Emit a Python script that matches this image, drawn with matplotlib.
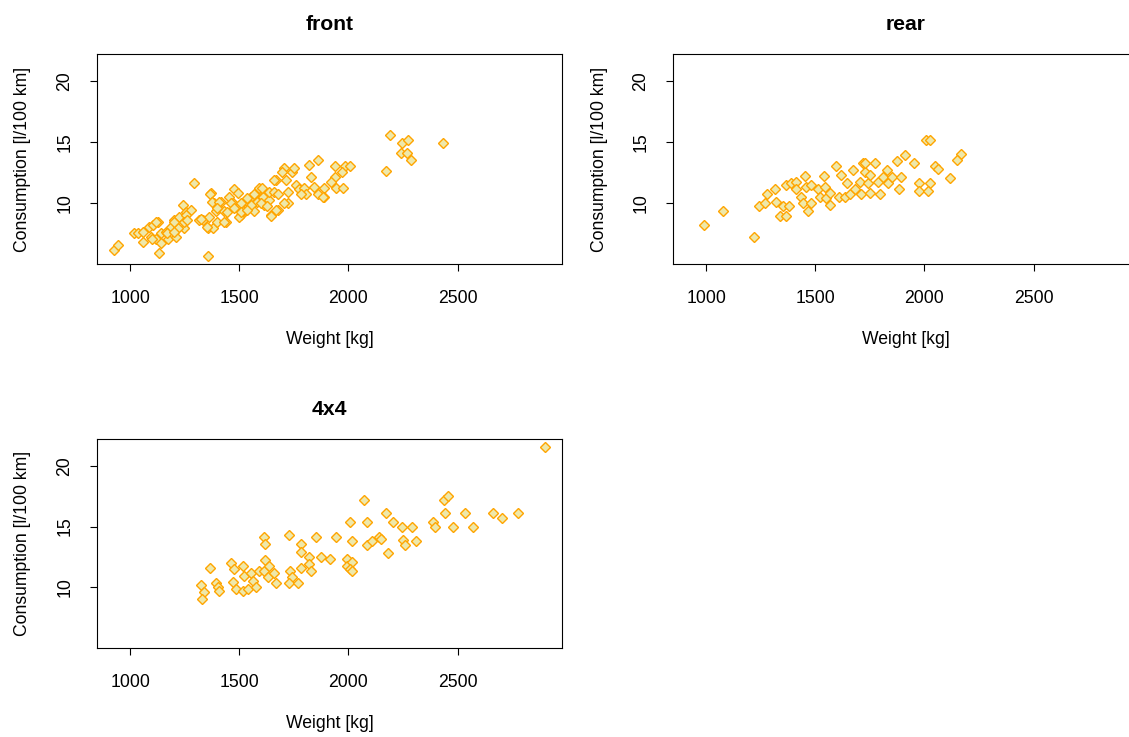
import matplotlib
matplotlib.use("Agg")
import matplotlib.pyplot as plt

plt.rcParams['font.family'] = ['Liberation Sans', 'DejaVu Sans']

# weights [kg] and consumption [l/100 km]
front_weight = [927, 945, 1018, 1037, 1060, 1060, 1087, 1105, 1128, 1096, 1119, 1133,
                1142, 1165, 1174, 1188, 1211, 1202, 1225, 1243, 1257, 1280, 1248, 1220,
                1294, 1317, 1335, 1358, 1381, 1362, 1372, 1385, 1417, 1394, 1440, 1431,
                1454, 1477, 1472, 1495, 1500, 1509, 1500, 1518, 1541, 1555, 1569, 1578,
                1592, 1610, 1615, 1638, 1638, 1647, 1661, 1670, 1679, 1679, 1706, 1716,
                1725, 1725, 1739, 1752, 1761, 1775, 1794, 1807, 1821, 1830, 1844, 1862,
                1862, 1890, 1890, 1936, 1936, 1945, 1982, 2005, 1968, 1977,
                2188, 2243, 2271, 2239, 2266, 2284, 2174, 2431,
                1367, 1376, 1408, 1257, 1326, 1202, 1248, 1261, 1399, 1353, 1119, 1170,
                1202, 1142, 1101, 1358, 1697, 1922, 1661, 1606, 1881, 1784, 1569, 1583,
                1537, 1463, 1509, 1555, 1601, 1628, 1706, 1670, 1647, 1509, 1445, 1399,
                1431, 1477, 1537]
front_cons = [6.1, 6.5, 7.5, 7.5, 7.6, 6.8, 8.0, 8.2, 8.4, 7.2, 7.0, 5.9,
              7.5, 7.6, 7.0, 8.0, 7.2, 8.6, 8.8, 9.8, 9.2, 9.4, 7.9, 7.9,
              11.6, 8.6, 8.6, 7.9, 7.9, 8.8, 10.8, 10.0, 10.1, 9.3, 8.4, 9.3,
              10.5, 11.1, 10.0, 10.8, 9.7, 9.0, 8.8, 9.3, 10.0, 10.5, 9.3, 10.8,
              11.2, 10.5, 9.8, 10.2, 10.9, 9.0, 10.9, 11.9, 9.4, 10.7, 12.9, 11.9,
              10.9, 10.0, 12.5, 12.9, 11.5, 11.1, 11.2, 10.7, 13.1, 12.1, 11.3, 13.5,
              10.7, 11.2, 10.5, 13.0, 12.1, 11.2, 13.0, 13.0, 12.5, 11.2,
              15.6, 14.9, 15.2, 14.1, 14.1, 13.5, 12.6, 14.9,
              10.7, 10.1, 10.1, 9.0, 8.7, 8.4, 8.4, 8.6, 8.4, 8.0, 8.4, 7.5,
              7.6, 6.7, 7.0, 5.6, 12.5, 11.7, 11.9, 11.2, 10.5, 10.7, 10.7, 10.1,
              10.4, 10.0, 10.0, 9.8, 10.0, 9.7, 10.0, 9.4, 8.9, 9.2, 9.2, 9.6,
              8.4, 9.6, 9.4]

rear_weight = [991, 1078, 1220, 1243, 1271, 1280, 1317, 1321, 1339, 1353, 1367, 1381,
               1367, 1390, 1413, 1413, 1436, 1445, 1454, 1459, 1468, 1482, 1482, 1514,
               1523, 1541, 1546, 1550, 1569, 1569, 1596, 1610, 1619, 1638, 1647, 1661,
               1674, 1683, 1706, 1711, 1720, 1729, 1739, 1752, 1752, 1775, 1789, 1798,
               1812, 1826, 1835, 1849, 1872, 1881, 1894, 1913, 2005, 2023, 1950, 2165,
               2151, 2050, 2060, 2115, 1977, 2023, 1977, 2018, 1729]
rear_cons = [8.2, 9.3, 7.2, 9.7, 10.0, 10.7, 11.1, 10.1, 8.9, 9.7, 8.9, 9.7,
             11.5, 11.6, 11.7, 11.1, 10.5, 10.0, 12.2, 11.3, 9.3, 10.0, 11.5, 11.1,
             10.5, 12.2, 11.3, 10.4, 10.8, 9.8, 13.0, 10.5, 12.3, 10.5, 11.6, 10.7,
             12.7, 11.1, 11.7, 10.7, 13.3, 12.5, 11.6, 12.3, 10.8, 13.3, 11.7, 10.7,
             12.1, 12.7, 11.6, 12.1, 13.4, 11.1, 12.1, 13.9, 15.2, 15.2, 13.3, 14.0,
             13.5, 13.0, 12.8, 12.0, 11.6, 11.6, 11.0, 11.0, 13.3]

awd_weight = [1367, 1326, 1339, 1330, 1394, 1404, 1408, 1463, 1477, 1472, 1486, 1518,
              1523, 1518, 1541, 1555, 1564, 1578, 1592, 1615, 1619, 1619, 1615, 1633,
              1638, 1661, 1670, 1729, 1734, 1739, 1729, 1771, 1784, 1784, 1784, 1821,
              1821, 1830, 1849, 1872, 1917, 1945, 1991, 1995, 2018, 2009, 2014, 2018,
              2009, 2073, 2087, 2083, 2106, 2138, 2147, 2174, 2183, 2206, 2243, 2248,
              2261, 2289, 2307, 2385, 2394, 2440, 2436, 2454, 2477, 2532, 2569, 2661,
              2702, 2775, 2899]
awd_cons = [11.6, 10.2, 9.6, 9.0, 10.3, 10.0, 9.7, 12.0, 11.5, 10.4, 9.8, 11.7,
            10.9, 9.7, 9.8, 11.2, 10.5, 10.0, 11.3, 14.1, 13.6, 12.2, 11.3, 10.8,
            11.7, 11.2, 10.3, 14.3, 11.3, 10.8, 10.3, 10.3, 13.6, 12.9, 11.6, 12.5,
            11.9, 11.3, 14.1, 12.5, 12.3, 14.1, 12.3, 11.7, 12.1, 11.5, 11.3, 13.8,
            15.4, 17.2, 15.4, 13.5, 13.8, 14.1, 14.0, 16.1, 12.8, 15.4, 15.0, 13.9,
            13.5, 15.0, 13.8, 15.4, 15.0, 16.1, 17.2, 17.5, 15.0, 16.1, 15.0, 16.1,
            15.7, 16.1, 21.6]

panels = [("front", front_weight, front_cons),
          ("rear", rear_weight, rear_cons),
          ("4x4", awd_weight, awd_cons)]

x_ticks = [1000, 1500, 2000, 2500]
y_ticks = [10, 15, 20]

W, H = 1129, 737
fig = plt.figure(figsize=(W / 100, H / 100), dpi=100)

# panel boxes in pixels: left, top, width, height
boxes = [(97, 54, 465, 210), (673, 54, 465, 210), (97, 439, 465, 209)]

# shared limits, R style (range + 4%)
all_w = front_weight + rear_weight + awd_weight
all_c = front_cons + rear_cons + awd_cons
wr = max(all_w) - min(all_w)
cr = max(all_c) - min(all_c)
xlim = (min(all_w) - 0.04 * wr, max(all_w) + 0.04 * wr)
ylim = (min(all_c) - 0.04 * cr, max(all_c) + 0.04 * cr)

fs = 12.7
for (name, wt, cons), (l, t, bw, bh) in zip(panels, boxes):
    ax = fig.add_axes([l / W, 1 - (t + bh) / H, bw / W, bh / H])
    ax.plot(wt, cons, linestyle='none', marker='D', markersize=5,
            markerfacecolor='#EEE8AA', markeredgecolor='orange', markeredgewidth=1.0)
    ax.set_xlim(xlim)
    ax.set_ylim(ylim)
    ax.set_xticks(x_ticks)
    ax.set_yticks(y_ticks)
    ax.set_yticklabels([str(v) for v in y_ticks], rotation=90, va='center')
    ax.tick_params(direction='out', length=5, width=0.8, labelsize=fs)
    ax.tick_params(axis='x', pad=14)
    ax.tick_params(axis='y', pad=12)
    for s in ax.spines.values():
        s.set_linewidth(0.8)
    ax.set_title(name, fontsize=fs * 1.2, fontweight='bold', pad=17)
    ax.set_xlabel("Weight [kg]", fontsize=fs)
    ax.set_ylabel("Consumption [l/100 km]", fontsize=fs)
    ax.xaxis.set_label_coords(0.5, -75 / bh)
    ax.xaxis.label.set_va('center')
    ax.yaxis.set_label_coords(-74 / bw, 0.5)
    ax.yaxis.label.set_va('center')

fig.savefig("out.png", dpi=100)
